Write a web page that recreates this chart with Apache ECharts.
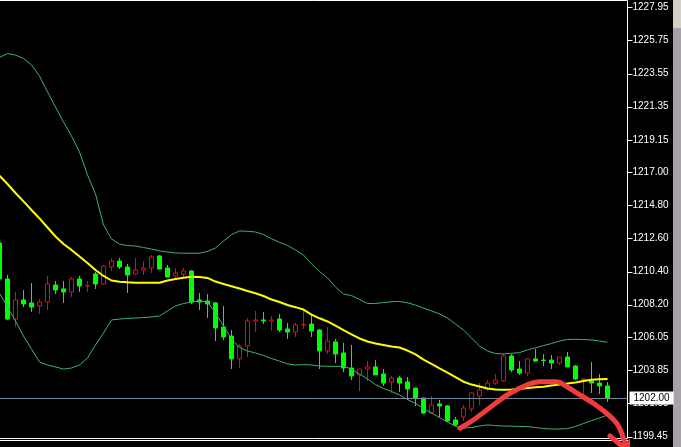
<!DOCTYPE html>
<html><head><meta charset="utf-8">
<script src="https://cdn.jsdelivr.net/npm/echarts@6/dist/echarts.min.js"></script>
<style>html,body{margin:0;padding:0;background:#000;overflow:hidden;} #c{width:681px;height:447px;}</style>
</head><body><div id="c"></div><script>
// ---- data ----
const categories = Array.from({length: 79}, (_, i) => 'bar' + i);
const opens = [1212.30,1209.91,1207.25,1208.52,1208.32,1208.12,1208.38,1209.51,1209.25,1209.05,
1209.91,1209.45,1210.24,1209.58,1210.71,1211.10,1210.71,1210.24,1210.51,1210.64,
1211.44,1210.64,1210.11,1210.24,1210.44,1208.52,1208.45,1208.32,1206.72,1206.12,
1204.60,1205.46,1207.12,1207.19,1207.12,1207.25,1206.59,1206.39,1206.86,1206.92,
1206.52,1205.13,1205.73,1205.00,1204.00,1203.54,1203.93,1204.07,1203.60,1203.07,
1203.34,1203.07,1202.67,1202.01,1201.01,1201.61,1201.48,1200.55,1200.75,1201.28,
1202.14,1202.61,1203.00,1203.14,1204.80,1203.93,1203.67,1204.60,1204.53,1204.53,
1204.33,1204.73,1204.13,1203.24,1203.14,1203.00,1202.81];
const closes = [1209.91,1207.25,1208.52,1208.25,1208.05,1208.38,1209.58,1209.18,1209.05,1209.91,
1209.45,1209.48,1209.58,1210.77,1211.10,1210.71,1210.18,1210.51,1210.64,1211.37,
1210.57,1210.04,1210.31,1210.44,1208.38,1208.38,1208.25,1206.66,1206.06,1204.60,
1205.46,1207.12,1207.19,1207.12,1207.19,1206.52,1206.39,1206.86,1206.89,1206.46,
1205.13,1205.79,1204.93,1204.00,1203.47,1203.93,1204.07,1203.54,1203.00,1203.34,
1203.00,1202.61,1202.01,1201.01,1201.54,1201.48,1200.48,1200.22,1201.34,1202.34,
1202.54,1203.00,1203.20,1204.80,1203.87,1203.67,1204.60,1204.46,1204.49,1204.33,
1204.73,1204.07,1203.27,1203.27,1203.00,1202.81,1202.00];
const lows = [1209.84,1207.19,1206.72,1208.05,1207.72,1207.59,1207.85,1208.91,1208.32,1208.71,
1209.05,1209.05,1209.25,1209.51,1210.44,1210.57,1208.98,1210.18,1210.18,1210.31,
1210.57,1210.04,1209.98,1210.04,1208.25,1207.85,1207.32,1205.79,1205.86,1203.93,
1204.00,1204.73,1206.39,1206.92,1206.46,1206.39,1205.93,1206.06,1206.59,1206.06,
1203.93,1204.93,1204.33,1203.73,1203.20,1202.47,1203.14,1203.54,1202.81,1202.34,
1202.41,1201.88,1201.48,1200.95,1200.95,1200.68,1200.41,1200.15,1200.48,1201.08,
1201.54,1202.47,1202.87,1203.07,1203.73,1203.54,1203.47,1204.40,1204.13,1203.93,
1204.20,1204.07,1203.20,1202.21,1202.34,1202.27,1201.74];
const highs = [1212.43,1210.18,1209.05,1209.18,1209.64,1208.58,1210.11,1209.78,1209.78,1210.04,
1210.11,1209.78,1210.37,1210.84,1211.30,1211.30,1210.91,1211.30,1211.10,1211.50,
1211.50,1210.84,1210.64,1210.64,1210.51,1208.98,1208.91,1208.38,1208.12,1206.52,
1205.59,1207.32,1207.79,1207.72,1207.45,1207.59,1206.99,1206.99,1207.79,1207.52,
1206.59,1206.72,1205.93,1205.66,1205.53,1203.93,1204.46,1204.53,1203.93,1203.47,
1203.47,1203.40,1202.67,1202.01,1202.14,1201.88,1201.54,1200.75,1201.54,1202.41,
1203.00,1203.20,1203.60,1204.93,1204.93,1204.46,1204.66,1205.26,1204.93,1204.86,
1204.73,1205.06,1204.20,1203.34,1204.40,1203.60,1203.07];
const upperBand = [1224.62,1224.88,1224.78,1224.55,1224.12,1223.39,1222.33,1221.33,1220.33,1219.41,
1218.34,1216.82,1215.55,1213.50,1212.57,1212.23,1212.13,1212.10,1212.00,1211.90,
1211.77,1211.70,1211.64,1211.62,1211.62,1211.62,1211.74,1211.97,1212.43,1212.86,
1213.10,1213.08,1213.03,1212.86,1212.58,1212.35,1212.13,1211.84,1211.50,1210.91,
1210.41,1209.98,1209.38,1208.91,1208.81,1208.55,1208.28,1208.28,1208.35,1208.40,
1208.42,1208.33,1208.18,1207.98,1207.79,1207.59,1207.32,1206.92,1206.52,1205.99,
1205.46,1205.13,1204.96,1204.93,1204.98,1205.02,1205.20,1205.34,1205.49,1205.63,
1205.79,1205.89,1205.91,1205.89,1205.86,1205.79,1205.71];
const movingAvg = [1216.77,1216.22,1215.62,1215.06,1214.49,1213.93,1213.33,1212.73,1212.23,1211.84,
1211.40,1210.97,1210.51,1210.11,1209.81,1209.73,1209.69,1209.66,1209.66,1209.66,
1209.66,1209.81,1209.91,1210.00,1210.06,1210.04,1209.98,1209.74,1209.58,1209.43,
1209.28,1209.11,1208.96,1208.78,1208.55,1208.38,1208.18,1208.04,1207.88,1207.55,
1207.30,1207.09,1206.82,1206.52,1206.24,1205.96,1205.76,1205.63,1205.53,1205.43,
1205.36,1205.16,1204.90,1204.56,1204.27,1203.98,1203.70,1203.40,1203.09,1202.90,
1202.77,1202.64,1202.57,1202.55,1202.57,1202.61,1202.67,1202.72,1202.76,1202.84,
1202.90,1202.97,1203.04,1203.14,1203.22,1203.25,1203.27];
const lowerBand = [1208.96,1208.05,1207.12,1206.12,1205.26,1204.40,1204.20,1204.07,1203.93,1204.00,
1204.20,1204.66,1205.53,1206.32,1207.19,1207.25,1207.29,1207.32,1207.35,1207.39,
1207.45,1207.79,1208.12,1208.28,1208.38,1208.45,1208.38,1207.65,1206.79,1205.93,
1205.36,1205.13,1205.00,1204.83,1204.63,1204.46,1204.27,1204.20,1204.23,1204.20,
1204.13,1204.11,1204.11,1204.11,1203.93,1203.60,1203.27,1202.90,1202.64,1202.44,
1202.21,1201.91,1201.64,1201.31,1201.01,1200.71,1200.41,1200.13,1200.02,1200.05,
1200.15,1200.22,1200.18,1200.15,1200.14,1200.12,1200.11,1200.05,1199.98,1199.95,
1199.95,1199.98,1200.12,1200.32,1200.51,1200.68,1200.88];
const tickValues = [1227.95,1225.75,1223.55,1221.35,1219.15,1217.00,1214.80,1212.60,1210.40,1208.20,1206.05,1203.85,1201.65,1199.45];
const bidPrice = 1202.00;
// hand-drawn red arc (bar index, price)
const arcIdx = [57.56,59.23,60.9,62.56,63.81,65.9,67.56,69.65,70.9,72.56,74.23,75.9,77.15,77.78,78.19];
const arcPrice = [1200.00,1200.55,1201.21,1201.88,1202.32,1202.87,1203.09,1203.09,1202.76,1202.21,1201.66,1200.99,1200.33,1199.66,1198.95];
const arrowLeftIdx = [76.31,77.94], arrowLeftPrice = [1199.49,1198.75];
const arrowRightIdx = [79.94,78.44], arrowRightPrice = [1199.82,1198.82];

// ---- build ----
const candleData = opens.map((o, i) => [o, closes[i], lows[i], highs[i]]);
const pair = (xs, ys) => xs.map((x, i) => [x, ys[i]]);
const bandColor = '#3cb371';
const red = '#f23c3c';

const chart = echarts.init(document.getElementById('c'), null, {renderer: 'canvas'});
chart.setOption({
  backgroundColor: '#000',
  animation: false,
  grid: {left: -4.5, top: 0.5, width: 632, height: 438, outerBoundsMode: 'none', containLabel: false, show: true, borderColor: '#fff', borderWidth: 1, backgroundColor: 'transparent'},
  xAxis: [
    {type: 'category', data: categories, boundaryGap: true, axisLine: {show: false}, axisTick: {show: false}, axisLabel: {show: false}, splitLine: {show: false}},
    {type: 'value', min: -0.5, max: 78.5, show: false}
  ],
  yAxis: {
    type: 'value', position: 'right', min: 1199.319, max: 1228.402,
    axisLine: {show: false},
    axisTick: {show: false},
    axisLabel: {customValues: tickValues, color: '#fff', fontFamily: 'Liberation Sans', fontSize: 10, margin: 5, formatter: v => v.toFixed(2)},
    splitLine: {show: false}
  },
  series: [
    {
      type: 'candlestick', data: candleData, barWidth: 4, z: 2,
      itemStyle: {color: '#000', color0: '#00ff00', borderColor: '#ff0000', borderColor0: '#00ff00', borderWidth: 1},
      markLine: {
        silent: true, symbol: ['none', 'none'], animation: false,
        lineStyle: {color: '#778899', width: 1, type: 'solid'},
        label: {show: true, position: 'end', distance: 2, formatter: bidPrice.toFixed(2), color: '#000', backgroundColor: '#fff', padding: [2, 4, 1, 4], fontFamily: 'Liberation Sans', fontSize: 10},
        data: [{yAxis: bidPrice}]
      }
    },
    {type: 'line', data: upperBand, symbol: 'none', z: 3, lineStyle: {color: bandColor, width: 1}},
    {type: 'line', data: lowerBand, symbol: 'none', z: 3, lineStyle: {color: bandColor, width: 1}},
    {type: 'line', data: movingAvg, symbol: 'none', z: 4, lineStyle: {color: '#ffff00', width: 2}},
    {type: 'line', xAxisIndex: 1, data: pair(arcIdx, arcPrice), smooth: 0.4, symbol: 'none', clip: false, z: 6, lineStyle: {color: red, width: 5, cap: 'round', join: 'round'}},
    {type: 'line', xAxisIndex: 1, data: pair(arrowLeftIdx, arrowLeftPrice), symbol: 'none', clip: false, z: 6, lineStyle: {color: red, width: 5, cap: 'round'}},
    {type: 'line', xAxisIndex: 1, data: pair(arrowRightIdx, arrowRightPrice), symbol: 'none', clip: false, z: 6, lineStyle: {color: red, width: 5, cap: 'round'}},
    {
      // axis tick marks on the right edge, placed through the y scale
      type: 'custom', xAxisIndex: 1, clip: false, silent: true, z: 1,
      data: tickValues.map(v => [0, v]),
      renderItem: (params, api) => {
        const cs = params.coordSys;
        const y = Math.round(api.coord([0, api.value(1)])[1]) + 0.5;
        const x0 = cs.x + cs.width;
        return {type: 'line', shape: {x1: x0, y1: y, x2: x0 + 5, y2: y}, style: {stroke: '#fff', lineWidth: 1}};
      }
    }
  ],
  graphic: [
    {type: 'line', shape: {x1: 0, y1: 440.5, x2: 628, y2: 440.5}, style: {stroke: '#fff', lineWidth: 1}, z: 1},
    {type: 'rect', shape: {x: 673, y: 0, width: 8, height: 28}, style: {fill: '#d4d0c8'}, z: 1},
    {type: 'rect', shape: {x: 673, y: 28, width: 8, height: 419}, style: {fill: '#a9a1a9'}, z: 1}
  ]
});
</script></body></html>
